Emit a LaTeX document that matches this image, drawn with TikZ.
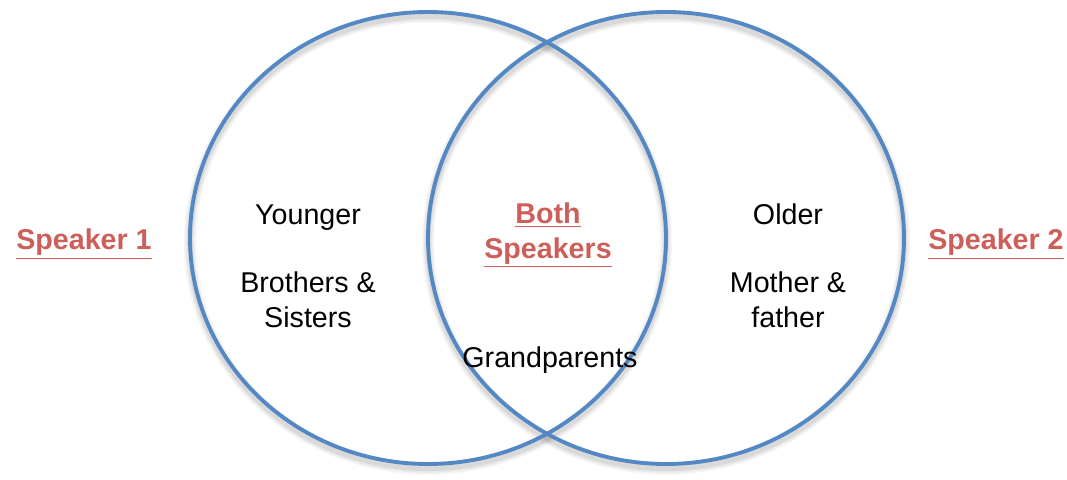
\documentclass[tikz,border=0pt]{standalone}
\usepackage{fontspec}
\setmainfont{Liberation Sans}
\usepackage{tikz}
\definecolor{ringblue}{RGB}{84,136,196}
\definecolor{spkred}{RGB}{205,95,90}

\begin{document}
\begin{tikzpicture}[ring/.style={draw=ringblue,line width=2.2pt},
      ringshadow/.style={draw=black,opacity=#1,yshift=-2.5pt},
      txt/.style={font=\fontsize{16.3}{19.8}\selectfont,align=center,inner sep=0pt},
      spk/.style={txt,font=\fontsize{16.3}{19.8}\selectfont\bfseries,text=spkred}]
      \useasboundingbox (0,0) rectangle (21.34,9.58);
      % soft shadows under both rings
      \foreach \w/\o in {7pt/0.04,5pt/0.05,3pt/0.07} {
        \draw[ringshadow=\o,line width=\w] (8.56,4.82) ellipse [x radius=4.76,y radius=4.52];
        \draw[ringshadow=\o,line width=\w] (13.32,4.82) ellipse [x radius=4.76,y radius=4.52];
      }
      \draw[ring] (8.56,4.82) ellipse [x radius=4.76,y radius=4.52];
      \draw[ring] (13.32,4.82) ellipse [x radius=4.76,y radius=4.52];

      \node[spk] (S1) at (1.68,4.70) {\underline{Speaker 1}};
      \node[spk] (S2) at (19.92,4.70) {\underline{Speaker 2}};
      \node[spk] (both) at (10.96,4.88) {\underline{Both}\\\underline{Speakers}};

      \node[txt] (young) at (6.16,5.22) {Younger};
      \node[txt] (sibs) at (6.16,3.58) {Brothers \&\\Sisters};
      \node[txt] (old) at (15.76,5.30) {Older};
      \node[txt] (parents) at (15.76,3.58) {Mother \&\\father};
      \node[txt] (grand) at (11.00,2.38) {Grandparents};
\end{tikzpicture}
\end{document}
